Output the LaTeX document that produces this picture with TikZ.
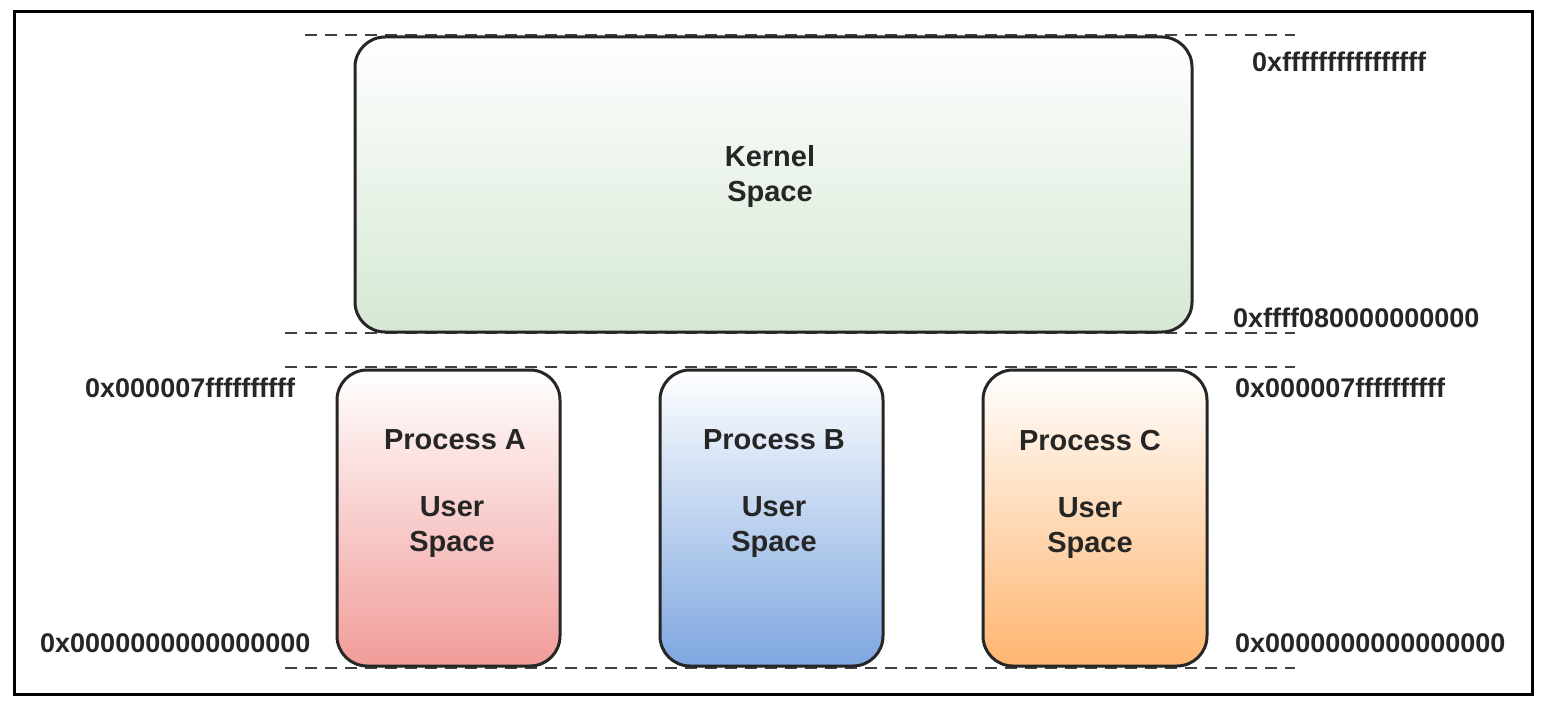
\documentclass[tikz,border=0pt]{standalone}
\usepackage{fontspec}
\setmainfont{Liberation Sans}
\begin{document}
\begin{tikzpicture}[x=1pt,y=-1pt,
 box/.style={draw=black!85,line width=3pt,rounded corners=30pt},
 dline/.style={line width=2.6pt,dash pattern=on 12pt off 8pt,black!75},
 lab/.style={font=\fontsize{29}{35}\selectfont\bfseries,text=black!85,align=center},
 hex/.style={font=\fontsize{27}{30}\selectfont\bfseries,text=black!85,anchor=west,inner sep=0pt}]
\useasboundingbox (0,0) rectangle (1556,714);
\draw[line width=3pt] (14,12) rectangle (1532,694);
\coordinate (d1a) at (305,35); \coordinate (d1b) at (1295,35);
\coordinate (d2a) at (285,333); \coordinate (d2b) at (1295,333);
\coordinate (d3a) at (285,367); \coordinate (d3b) at (1295,367);
\coordinate (d4a) at (285,668); \coordinate (d4b) at (1295,668);
\draw[dline] (d1a)--(d1b); \draw[dline] (d2a)--(d2b);
\draw[dline] (d3a)--(d3b); \draw[dline] (d4a)--(d4b);
\definecolor{kg}{HTML}{D5E8D4}\definecolor{ra}{HTML}{F19C99}
\definecolor{bb}{HTML}{7EA6E0}\definecolor{oc}{HTML}{FFB570}
\draw[box,top color=white,bottom color=kg] (355,37) rectangle (1192,332);
\draw[box,top color=white,bottom color=ra] (337,370) rectangle (560,666);
\draw[box,top color=white,bottom color=bb] (660,370) rectangle (883,666);
\draw[box,top color=white,bottom color=oc] (983,370) rectangle (1207,666);
\node[lab] (k) at (770,177) {Kernel\\Space};
\node[lab] (pa) at (455,440) {Process A};
\node[lab] (ua) at (452,527) {User\\Space};
\node[lab] (pb) at (774,440) {Process B};
\node[lab] (ub) at (774,527) {User\\Space};
\node[lab] (pc) at (1090,441) {Process C};
\node[lab] (uc) at (1090,528) {User\\Space};
\node[hex] (h1) at (1252,62) {0xffffffffffffffff};
\node[hex] (h2) at (1233,318) {0xffff080000000000};
\node[hex] (h3) at (85,388) {0x000007ffffffffff};
\node[hex] (h4) at (1235,388) {0x000007ffffffffff};
\node[hex] (h5) at (40,643) {0x0000000000000000};
\node[hex] (h6) at (1235,643) {0x0000000000000000};
\end{tikzpicture}
\end{document}
